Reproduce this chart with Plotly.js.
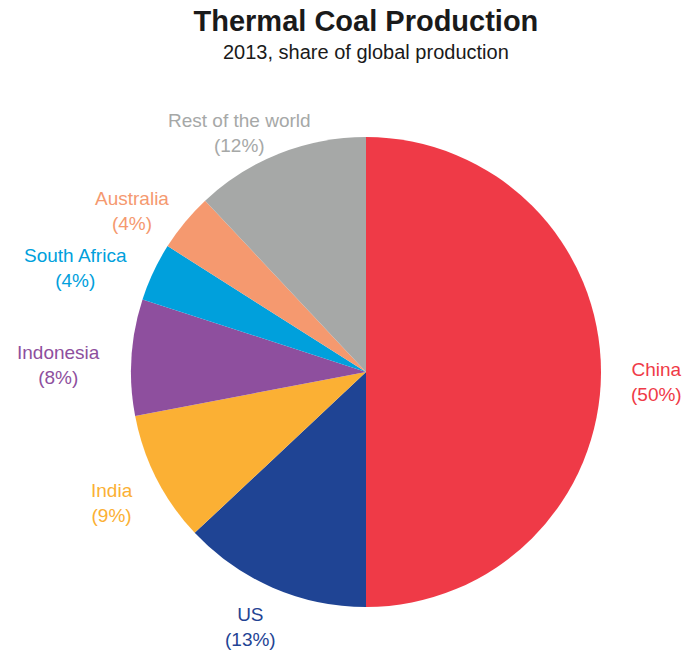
<!DOCTYPE html>
<html><head><meta charset="utf-8">
<script src="https://cdn.plot.ly/plotly-3.0.1.min.js"></script>
<style>html,body{margin:0;padding:0;background:#fff}#chart{width:684px;height:651px}</style>
</head><body><div id="chart"></div>
<script>
const countries = ["China", "US", "India", "Indonesia", "South Africa", "Australia", "Rest of the world"];
const shares = [50, 13, 9, 8, 4, 4, 12];
const colors = ["#EF3A47", "#1F4494", "#FBB034", "#8E4F9E", "#00A0DC", "#F5996F", "#A6A8A7"];

const FONT = "Liberation Sans, Arial, Helvetica, sans-serif";
const LABEL_SIZE = 19;
const W = 684, H = 651;
const CX = 366, CY = 372, R = 235;   // pie centre / radius in pixels
const GAPX = 26, GAPY = 20, LINE = 25, YBIAS = 10;

const pieTrace = {
  type: "pie",
  labels: countries,
  values: shares,
  sort: false,
  direction: "clockwise",
  rotation: 0,
  marker: {colors: colors, line: {width: 0}},
  textinfo: "none",
  hoverinfo: "label+percent",
  showlegend: false,
  domain: {x: [(CX - R) / W, (CX + R) / W], y: [1 - (CY + R) / H, 1 - (CY - R) / H]}
};

// outside labels, placed along each slice's mid-angle
const ctx = document.createElement("canvas").getContext("2d");
ctx.font = LABEL_SIZE + "px 'Liberation Sans'";
const total = shares.reduce((a, b) => a + b, 0);
const annotations = [];
let cum = 0;
shares.forEach((v, i) => {
  const mid = (cum + v / 2) / total;
  cum += v;
  const th = 2 * Math.PI * mid;
  const dx = Math.sin(th), dy = -Math.cos(th);
  const lines = [countries[i], "(" + v + "%)"];
  const w = Math.max(...lines.map(s => ctx.measureText(s).width));
  const h = lines.length * LINE;
  const px = CX + (R + GAPX) * dx + dx * w * 0.575;
  const py = CY + (R + GAPY) * dy + dy * h * 0.25 + YBIAS;
  annotations.push({
    x: px / W, y: 1 - py / H, xref: "paper", yref: "paper",
    xanchor: "center", yanchor: "middle", align: "center",
    text: lines.join("<br>"), showarrow: false,
    font: {family: FONT, size: LABEL_SIZE, color: colors[i]}
  });
});

annotations.push({
  text: "2013, share of global production",
  font: {family: FONT, size: 20, color: "#1a1a1a"},
  x: 0.535, xref: "paper", xanchor: "center",
  y: 0.920, yref: "paper", yanchor: "middle",
  showarrow: false
});

const layout = {
  width: W, height: H,
  margin: {l: 0, r: 0, t: 0, b: 0},
  paper_bgcolor: "#fff",
  title: {
    text: "<b>Thermal Coal Production</b>",
    font: {family: FONT, size: 29, color: "#1a1a1a"},
    x: 0.535, xanchor: "center", xref: "paper",
    y: 0.983, yanchor: "top", yref: "container"
  },
  annotations: annotations
};
Plotly.newPlot("chart", [pieTrace], layout, {displayModeBar: false});
</script></body></html>
